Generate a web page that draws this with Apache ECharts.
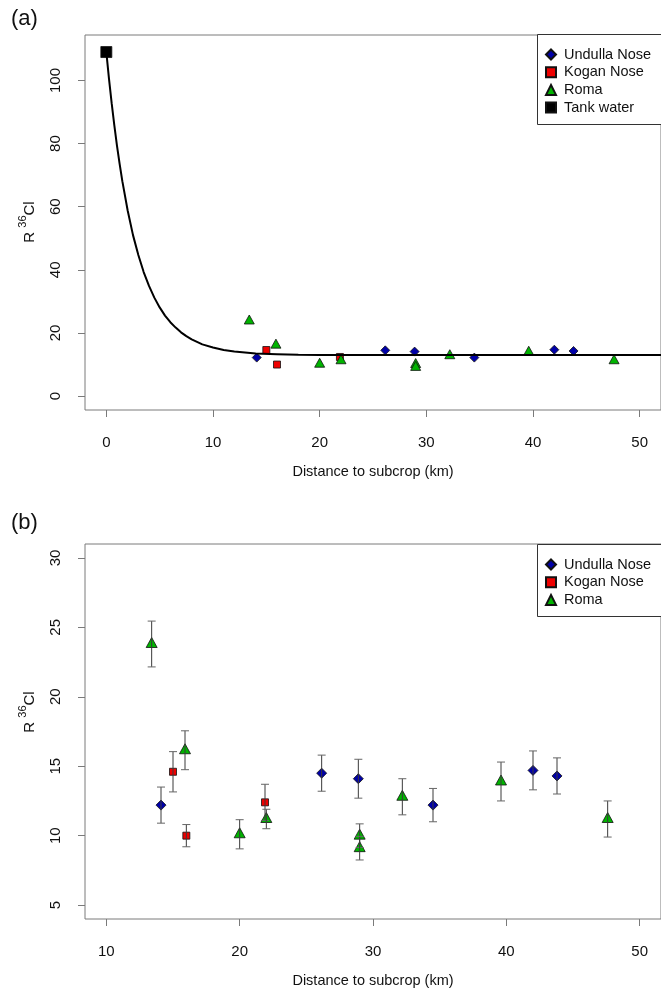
<!DOCTYPE html>
<html>
<head>
<meta charset="utf-8">
<script src="https://cdn.jsdelivr.net/npm/echarts@6/dist/echarts.min.js"></script>
<style>
html,body{margin:0;padding:0;background:#fff;}
#chart{width:661px;height:991px;}
</style>
</head>
<body>
<div id="chart"></div>
<script>
// ---- data ----
const undullaX = [14.1, 26.15, 28.9, 34.5, 42.0, 43.8];
const undullaY = [12.2, 14.5, 14.1, 12.2, 14.7, 14.3];
const undullaErr = [1.3, 1.3, 1.4, 1.2, 1.4, 1.3];

const koganX = [15.0, 16.0, 21.9];
const koganY = [14.6, 10.0, 12.4];
const koganErr = [1.45, 0.8, 1.3];

const romaX = [13.4, 15.9, 20.0, 22.0, 29.0, 29.0, 32.2, 39.6, 47.6];
const romaY = [23.8, 16.15, 10.1, 11.2, 10.0, 9.1, 12.8, 13.9, 11.2];
const romaErr = [1.65, 1.4, 1.05, 0.7, 0.85, 0.85, 1.3, 1.4, 1.3];

const tankX = [0];
const tankY = [109];

// fitted curve, points
const fitX = [0, 0.25, 0.5, 0.75, 1, 1.25, 1.5, 2, 2.5, 3, 3.5, 4, 4.5, 5, 5.5, 6, 6.5, 7, 7.5, 8, 9, 10, 11, 12, 13, 14, 16, 18, 20, 25, 52];
const fitY = [109, 100.5, 92.8, 85.8, 79.3, 73.5, 68.1, 58.8, 51.0, 44.7, 39.3, 34.9, 31.2, 28.1, 25.5, 23.4, 21.7, 20.2, 19.0, 18.0, 16.4, 15.4, 14.6, 14.1, 13.8, 13.5, 13.3, 13.1, 13.05, 13.0, 13.0];

const aXTicks = [0, 10, 20, 30, 40, 50];
const aYTicks = [0, 20, 40, 60, 80, 100];
const bXTicks = [10, 20, 30, 40, 50];
const bYTicks = [5, 10, 15, 20, 25, 30];

const names = ['Undulla Nose', 'Kogan Nose', 'Roma', 'Tank water'];

// ---- helpers ----
const zip = (xs, ys) => xs.map((x, i) => [x, ys[i]]);
const errData = (xs, ys, es) => xs.map((x, i) => [x, ys[i] - es[i], ys[i] + es[i]]);
const FONT = '"Liberation Sans", Arial, sans-serif';
const GRAY = '#7a7a7a';

function xAxisCfg(gi, min, max, ticks) {
  return {
    type: 'value', gridIndex: gi, min: min, max: max, position: 'bottom',
    axisLine: {show: false, onZero: false}, splitLine: {show: false},
    axisTick: {show: true, length: 7, customValues: ticks, lineStyle: {color: GRAY}},
    axisLabel: {customValues: ticks, margin: 25, fontSize: 15, color: '#111', fontFamily: FONT},
    name: 'Distance to subcrop (km)', nameLocation: 'middle', nameGap: 54,
    nameTextStyle: {fontSize: 14.5, color: '#111', fontFamily: FONT}
  };
}
function yAxisCfg(gi, min, max, ticks) {
  return {
    type: 'value', gridIndex: gi, min: min, max: max, position: 'left',
    axisLine: {show: false, onZero: false}, splitLine: {show: false},
    axisTick: {show: true, length: 7, customValues: ticks, lineStyle: {color: GRAY}},
    axisLabel: {customValues: ticks, margin: 22, rotate: 90, fontSize: 15, color: '#111', fontFamily: FONT}
  };
}

const styles = {
  'Undulla Nose': {symbol: 'diamond', size: 10, color: '#0000a8'},
  'Kogan Nose': {symbol: 'rect', size: 7, color: '#ee0000'},
  'Roma': {symbol: 'triangle', size: [10, 9], color: '#00b400', offset: [0, -1.5]},
  'Tank water': {symbol: 'rect', size: 10, color: '#000000'}
};
function scatter(name, gi, data, sizeOverride) {
  const s = styles[name];
  return {
    type: 'scatter', name: name, xAxisIndex: gi, yAxisIndex: gi,
    data: data, symbol: s.symbol, symbolSize: sizeOverride || s.size,
    symbolOffset: s.offset || [0, 0],
    itemStyle: {color: s.color, borderColor: '#111', borderWidth: 0.8, opacity: 1},
    emphasis: {disabled: true}, z: 2
  };
}

function errorRender(params, api) {
  const x = api.value(0), lo = api.value(1), hi = api.value(2);
  const pLo = api.coord([x, lo]);
  const pHi = api.coord([x, hi]);
  const w = 4;
  return {
    type: 'group',
    children: [
      {type: 'line', shape: {x1: pLo[0], y1: pLo[1], x2: pHi[0], y2: pHi[1]}, style: {stroke: '#3a3a3a', lineWidth: 1}},
      {type: 'line', shape: {x1: pLo[0] - w, y1: pLo[1], x2: pLo[0] + w, y2: pLo[1]}, style: {stroke: '#666', lineWidth: 1}},
      {type: 'line', shape: {x1: pHi[0] - w, y1: pHi[1], x2: pHi[0] + w, y2: pHi[1]}, style: {stroke: '#666', lineWidth: 1}}
    ]
  };
}

function legendCfg(top, list) {
  return {
    left: 537, top: top, orient: 'vertical', data: list,
    itemWidth: 10, itemHeight: 10, itemGap: 2.7,
    padding: [13, 10, 9, 8],
    borderWidth: 0, backgroundColor: 'transparent',
    selectedMode: false, z: 6,
    textStyle: {fontSize: 14.5, color: '#111', fontFamily: FONT, padding: [0, 0, 0, 3]}
  };
}

function legendBox(y, h) {
  return {
    type: 'rect', z: 5,
    shape: {x: 537.5, y: y + 0.5, width: 160, height: h},
    style: {fill: '#fff', stroke: '#333', lineWidth: 1}
  };
}

function ylabel(x, y) {
  return {
    type: 'text', x: x, y: y, rotation: Math.PI / 2,
    style: {
      text: '{n|R }{s|36}{n|Cl}',
      align: 'center', verticalAlign: 'middle',
      rich: {
        n: {fontSize: 15, fontFamily: FONT, fill: '#111', verticalAlign: 'bottom', lineHeight: 20},
        s: {fontSize: 11, fontFamily: FONT, fill: '#111', verticalAlign: 'top', lineHeight: 20}
      }
    }
  };
}

const option = {
  backgroundColor: '#fff',
  animation: false,
  textStyle: {fontFamily: FONT},
  grid: [
    {left: 85, top: 35, width: 578, height: 375, show: true, borderColor: GRAY, borderWidth: 1, backgroundColor: 'transparent'},
    {left: 85, top: 544, width: 578, height: 375, show: true, borderColor: GRAY, borderWidth: 1, backgroundColor: 'transparent'}
  ],
  xAxis: [xAxisCfg(0, -2, 52, aXTicks), xAxisCfg(1, 8.4, 51.6, bXTicks)],
  yAxis: [yAxisCfg(0, -4.4, 114.4, aYTicks), yAxisCfg(1, 4, 31, bYTicks)],
  legend: [legendCfg(34, names), legendCfg(544, names.slice(0, 3))],
  graphic: [
    {type: 'text', left: 11, top: 8, style: {text: '(a)', fontSize: 22, fontFamily: FONT, fill: '#111'}},
    {type: 'text', left: 11, top: 512, style: {text: '(b)', fontSize: 22, fontFamily: FONT, fill: '#111'}},
    ylabel(27, 222),
    ylabel(27, 712),
    legendBox(34, 90),
    legendBox(544, 72)
  ],
  series: [
    scatter('Undulla Nose', 0, zip(undullaX, undullaY), 9),
    scatter('Kogan Nose', 0, zip(koganX, koganY), 7),
    scatter('Roma', 0, zip(romaX, romaY), [10, 9]),
    scatter('Tank water', 0, zip(tankX, tankY), 11),
    {
      type: 'line', name: 'fit', xAxisIndex: 0, yAxisIndex: 0,
      data: zip(fitX, fitY), showSymbol: false, smooth: false,
      lineStyle: {color: '#000', width: 2}, z: 3, silent: true, clip: true
    },
    scatter('Undulla Nose', 1, zip(undullaX, undullaY), 10),
    scatter('Kogan Nose', 1, zip(koganX, koganY), 7),
    scatter('Roma', 1, zip(romaX, romaY), [11, 10]),
    {
      type: 'custom', name: 'err', xAxisIndex: 1, yAxisIndex: 1,
      renderItem: errorRender,
      encode: {x: 0, y: [1, 2]},
      data: errData(undullaX, undullaY, undullaErr)
        .concat(errData(koganX, koganY, koganErr))
        .concat(errData(romaX, romaY, romaErr)),
      z: 4, silent: true
    }
  ]
};

const chart = echarts.init(document.getElementById('chart'), null, {renderer: 'canvas'});
chart.setOption(option);
</script>
</body>
</html>
